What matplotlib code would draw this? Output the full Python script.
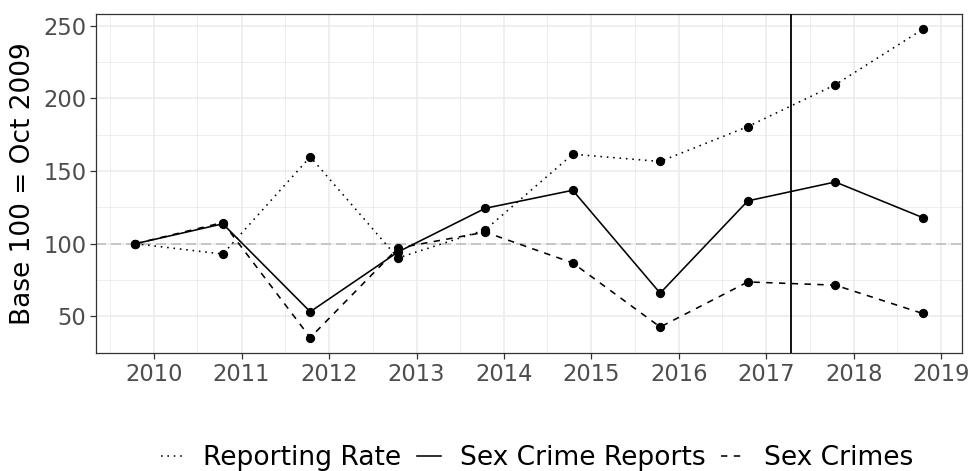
import datetime as dt

import matplotlib
matplotlib.use("Agg")
import matplotlib.dates as mdates
import matplotlib.pyplot as plt
from matplotlib.ticker import MultipleLocator

# index values, base 100 = Oct 2009
years = list(range(2009, 2019))
reporting_rate = [100, 92.9, 159.8, 90.2, 109.6, 161.6, 156.6, 180.6, 209.4, 247.5]
crime_reports = [100, 113.7, 53.2, 94.3, 124.4, 136.8, 66.0, 129.5, 142.5, 118.0]
sex_crimes = [100, 114.6, 35.4, 97.0, 108.0, 86.8, 42.7, 73.7, 71.5, 52.0]
policy_date = dt.date(2017, 4, 15)

dates = [dt.date(y, 10, 15) for y in years]

fig = plt.figure(figsize=(9.74, 4.71), dpi=100)
ax = fig.add_axes([0.0986, 0.2505, 0.8891, 0.7198])

ax.axhline(100, color="#BEBEBE", linewidth=1.2, linestyle=(0, (6, 3)), zorder=2)
ax.axvline(mdates.date2num(policy_date), color="black", linewidth=1.3, zorder=3)

series = [
    ("Reporting Rate", reporting_rate, (0, (1, 3))),
    ("Sex Crime Reports", crime_reports, "-"),
    ("Sex Crimes", sex_crimes, (0, (4, 4))),
]
handles = []
for label, vals, ls in series:
    ax.plot(dates, vals, color="black", linewidth=1.15, linestyle=ls, zorder=4)
    ax.scatter(dates, vals, color="black", s=32, zorder=5)
    h, = ax.plot([], [], color="black", linewidth=1.15, linestyle=ls, label=label)
    handles.append(h)

lo = mdates.date2num(dates[0])
hi = mdates.date2num(dates[-1])
pad = (hi - lo) * 0.05
ax.set_xlim(lo - pad, hi + pad)
ymin, ymax = min(sex_crimes), max(reporting_rate)
ypad = (ymax - ymin) * 0.05
ax.set_ylim(ymin - ypad, ymax + ypad)

ax.xaxis.set_major_locator(mdates.YearLocator())
ax.xaxis.set_minor_locator(mdates.MonthLocator(bymonth=7))
ax.xaxis.set_major_formatter(mdates.DateFormatter("%Y"))
ax.yaxis.set_major_locator(MultipleLocator(50))
ax.yaxis.set_minor_locator(MultipleLocator(25))

ax.grid(which="major", color="#EBEBEB", linewidth=1.1, zorder=0)
ax.grid(which="minor", color="#EBEBEB", linewidth=0.6, zorder=0)
ax.set_axisbelow(True)
for sp in ax.spines.values():
    sp.set_color("#333333")
    sp.set_linewidth(0.9)
ax.tick_params(which="major", length=4, width=0.9, color="#333333",
               labelcolor="#4D4D4D", labelsize=16.3, pad=3)
ax.tick_params(which="minor", length=0)

ax.set_ylabel("Base 100 = Oct 2009", fontsize=19, labelpad=5)

fig.legend(handles=handles, loc="center", bbox_to_anchor=(0.551, 0.027), ncol=3,
           frameon=False, fontsize=19.1, handlelength=0.9, handletextpad=0.7,
           columnspacing=0.6)

fig.savefig("out.png", dpi=100)
